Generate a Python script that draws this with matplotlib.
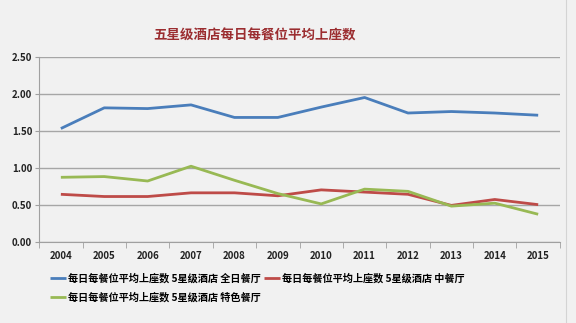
import numpy as np
import matplotlib.pyplot as plt
from matplotlib.ticker import FixedLocator
from matplotlib.lines import Line2D

plt.rcParams['font.family'] = ['Noto Sans CJK SC', 'DejaVu Sans']

years = ['2004', '2005', '2006', '2007', '2008', '2009',
         '2010', '2011', '2012', '2013', '2014', '2015']
all_day = [1.53, 1.81, 1.80, 1.85, 1.68, 1.68, 1.82, 1.95, 1.74, 1.76, 1.74, 1.71]
chinese = [0.64, 0.61, 0.61, 0.66, 0.66, 0.62, 0.70, 0.67, 0.64, 0.49, 0.57, 0.50]
specialty = [0.87, 0.88, 0.82, 1.02, 0.83, 0.65, 0.51, 0.71, 0.68, 0.48, 0.52, 0.37]
labels = ['每日每餐位平均上座数 5星级酒店 全日餐厅',
          '每日每餐位平均上座数 5星级酒店 中餐厅',
          '每日每餐位平均上座数 5星级酒店 特色餐厅']
colors = ['#4a7ebb', '#be4b48', '#98b954']

bg = '#f1f1f1'
fig = plt.figure(figsize=(5.76, 3.23), dpi=100, facecolor=bg)
ax = fig.add_axes([0.068, 0.252, 0.904, 0.572], facecolor=bg)

x = np.arange(len(years))
lines = []
for vals, lab, c in zip([all_day, chinese, specialty], labels, colors):
    ln, = ax.plot(x, vals, color=c, lw=2.0, label=lab, solid_capstyle='butt')
    lines.append(ln)

ax.set_xlim(-0.5, len(years) - 0.5)
ax.set_ylim(0, 2.5)
ax.set_yticks(np.arange(0, 2.51, 0.5))
ax.set_yticklabels([f'{v:.2f}' for v in np.arange(0, 2.51, 0.5)])
ax.set_xticks(x)
ax.set_xticklabels(years)
ax.xaxis.set_minor_locator(FixedLocator(np.arange(-0.5, len(years), 1.0)))
ax.tick_params(axis='x', which='major', length=0, pad=7)
ax.tick_params(axis='x', which='minor', length=4, color='#a0a0a0', direction='out')
ax.tick_params(axis='y', length=3, color='#a0a0a0', pad=2)
for lbl in ax.get_xticklabels() + ax.get_yticklabels():
    lbl.set_fontsize(7)
    lbl.set_fontweight('bold')
    lbl.set_color('#222222')

ax.grid(axis='y', color='#a6a6a6', lw=1.0)
ax.set_axisbelow(True)
for s in ['top', 'right']:
    ax.spines[s].set_visible(False)
for s in ['left', 'bottom']:
    ax.spines[s].set_color('#a0a0a0')

# thin frame edge on the right of the chart area
fig.add_artist(Line2D([0.983, 0.983], [0, 1], transform=fig.transFigure,
                      color='#d4d4d4', lw=0.8))

fig.text(0.442, 0.89, '五星级酒店每日每餐位平均上座数', ha='center', va='center',
         fontsize=9.7, fontweight='bold', color='#9b2d30')

# legend fills column-wise, so order handles to get row 1: 全日/中餐, row 2: 特色
order = [0, 2, 1]
fig.legend([lines[i] for i in order], [labels[i] for i in order],
           loc='upper left', bbox_to_anchor=(0.08, 0.168), ncol=2, frameon=False,
           prop={'size': 7.3, 'weight': 'bold'}, handlelength=1.6, handletextpad=0.2,
           columnspacing=0.3, labelspacing=0.85, borderaxespad=0)

fig.savefig('out.png', dpi=100, facecolor=bg)
